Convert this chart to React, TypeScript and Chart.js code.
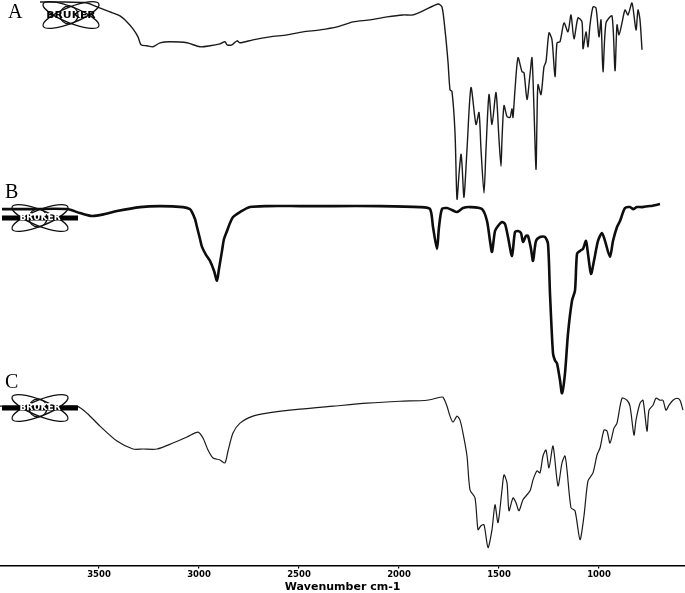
import React, { useEffect, useRef } from "react";
import { Chart, registerables } from "chart.js";

Chart.register(...registerables);

// Wavenumber (cm-1) and relative intensity (arbitrary stacked units) for each trace
const aWave = [3795,3695,3560,3510,3445,3395,3360,3330,3305,3290,3260,3230,3195,3145,3060,2995,2945,2895,2870,2860,2835,2810,2795,2730,2645,2560,2480,2395,2310,2230,2145,2060,1980,1930,1880,1805,1785,1770,1755,1745,1735,1720,1710,1700,1690,1685,1675,1660,1640,1615,1600,1590,1575,1565,1550,1535,1515,1500,1490,1485,1475,1460,1445,1435,1430,1420,1405,1385,1375,1360,1345,1335,1325,1315,1310,1305,1290,1275,1265,1250,1235,1220,1210,1195,1175,1155,1140,1125,1105,1085,1080,1065,1055,1045,1030,1015,1000,990,980,965,935,920,910,900,885,870,855,835,815,805,795,785];
const aVal = [566,566,565,561,556,552,546,539,531,523,522,521,525,526,525,521,522,524,526,523,523,527,525,528,531,533,536,538,541,546,548,551,553,553,557,564,561,538,506,478,476,435,368,393,413,403,370,418,480,443,455,418,374,418,473,443,475,428,401,428,462,451,450,459,450,478,510,496,495,468,493,510,458,398,448,483,473,501,506,535,528,491,525,526,545,536,553,529,550,546,519,536,521,543,561,560,531,548,496,545,552,497,543,533,545,558,553,565,538,558,548,518];

const bWave = [3985,3845,3660,3595,3535,3470,3410,3295,3195,3080,3045,3035,3020,3010,2995,2985,2965,2945,2925,2910,2900,2885,2875,2860,2845,2830,2795,2745,2660,2495,2330,2095,1895,1845,1830,1810,1800,1785,1760,1735,1710,1680,1645,1585,1560,1545,1535,1520,1505,1485,1470,1455,1435,1420,1405,1390,1380,1365,1355,1340,1330,1315,1295,1270,1255,1245,1230,1220,1210,1195,1185,1170,1155,1135,1120,1110,1095,1080,1065,1055,1040,1025,1005,985,970,945,930,910,895,870,845,830,810,785,745,695];
const bVal = [358,358,358,354,351,353,356,360,361,360,358,355,348,340,328,320,312,306,296,286,298,316,328,336,344,350,355,360,361,361,361,361,360,358,340,318,340,358,359,357,355,359,360,358,346,326,315,336,341,345,343,330,311,335,336,334,325,331,331,318,306,326,330,330,323,273,213,206,203,186,173,193,233,266,276,313,316,318,326,313,293,306,326,334,326,310,326,340,346,359,360,358,360,360,361,363];

const cWave = [3995,3895,3795,3695,3610,3560,3495,3410,3330,3280,3210,3130,3060,3005,2980,2955,2930,2895,2870,2855,2830,2795,2730,2660,2495,2330,2160,1995,1860,1795,1780,1760,1745,1730,1710,1695,1680,1660,1645,1620,1605,1590,1575,1555,1535,1520,1505,1485,1475,1460,1450,1430,1415,1400,1380,1345,1330,1310,1295,1280,1265,1250,1230,1205,1185,1170,1160,1140,1120,1095,1075,1055,1030,1010,995,975,960,945,925,910,885,860,845,825,815,795,780,760,750,730,715,695,680,665,650,630,610,595,580];
const cVal = [160,160,160,160,160,153,140,125,117,117,117,123,129,134,128,116,108,106,103,115,133,143,150,153,157,160,163,165,166,169,169,160,150,144,150,146,133,110,76,68,36,40,41,18,36,61,43,76,91,83,55,68,63,55,66,75,86,95,93,110,116,98,120,80,103,110,96,58,55,26,50,85,93,111,118,136,135,123,138,143,168,166,160,131,146,163,166,135,156,161,168,166,166,156,161,166,168,166,156];

const xTicks = [3500, 3000, 2500, 2000, 1500, 1000];
const traceLabels = ["A", "B", "C"];

const toPoints = (w: number[], v: number[]) => w.map((x, i) => ({ x, y: v[i] }));

function drawLogo(ctx: CanvasRenderingContext2D, cx: number, cy: number, heavy: boolean) {
  ctx.save();
  ctx.translate(cx, cy);
  ctx.strokeStyle = "#111";
  ctx.lineWidth = 1.3;
  ctx.beginPath();
  ctx.ellipse(0, 0, 30, 8, 0.38, 0, Math.PI * 2);
  ctx.stroke();
  ctx.beginPath();
  ctx.ellipse(0, 0, 30, 8, -0.38, 0, Math.PI * 2);
  ctx.stroke();
  ctx.beginPath();
  ctx.ellipse(-2, 0, 9, 9, 0, 0, Math.PI * 2);
  ctx.stroke();
  ctx.fillStyle = "#000";
  ctx.font = heavy ? "900 9px 'DejaVu Sans'" : "bold 8px 'DejaVu Sans'";
  ctx.textAlign = "center";
  ctx.textBaseline = "middle";
  if (heavy) {
    ctx.fillRect(-38, -2.5, 76, 5);
    ctx.fillStyle = "#fff";
    ctx.fillText("BRUKER", 0, 0);
  } else {
    ctx.save();
    ctx.scale(1.35, 1);
    ctx.fillText("BRUKER", 0, 0.5);
    ctx.restore();
  }
  ctx.restore();
}

const decorPlugin = {
  id: "decor",
  afterDatasetsDraw(chart: any) {
    const ctx = chart.ctx as CanvasRenderingContext2D;
    const top = chart.chartArea.top;
    const left = chart.chartArea.left;
    drawLogo(ctx, left + 71, top + 15, false);
    drawLogo(ctx, left + 40, top + 218, true);
    drawLogo(ctx, left + 40, top + 408, true);
    ctx.save();
    ctx.fillStyle = "#000";
    ctx.font = "20px 'Liberation Serif'";
    ctx.textBaseline = "alphabetic";
    ctx.textAlign = "left";
    ctx.fillText(traceLabels[0], left + 8, top + 18);
    ctx.fillText(traceLabels[1], left + 5, top + 198);
    ctx.fillText(traceLabels[2], left + 5, top + 388);
    ctx.restore();
  },
};

export default function App() {
  const ref = useRef<HTMLCanvasElement | null>(null);
  useEffect(() => {
    if (!ref.current) return;
    const chart = new Chart(ref.current, {
      type: "line",
      data: {
        datasets: [
          { label: "A", data: toPoints(aWave, aVal), borderColor: "#1a1a1a", borderWidth: 1.4, pointRadius: 0, tension: 0.25, fill: false },
          { label: "B", data: toPoints(bWave, bVal), borderColor: "#0d0d0d", borderWidth: 2.6, pointRadius: 0, tension: 0.25, fill: false },
          { label: "C", data: toPoints(cWave, cVal), borderColor: "#1a1a1a", borderWidth: 1.2, pointRadius: 0, tension: 0.25, fill: false },
        ],
      },
      options: {
        animation: false,
        responsive: true,
        maintainAspectRatio: false,
        layout: { padding: 0 },
        plugins: { legend: { display: false }, tooltip: { enabled: false }, title: { display: false } },
        scales: {
          x: {
            type: "linear",
            reverse: true,
            min: 570,
            max: 3995,
            afterBuildTicks: (axis: any) => {
              axis.ticks = xTicks.map((v) => ({ value: v }));
            },
            grid: { display: true, drawOnChartArea: false, drawTicks: true, tickLength: 3, color: "#000", lineWidth: 1.2 },
            border: { display: true, color: "#000", width: 1.6 },
            ticks: {
              autoSkip: false,
              maxRotation: 0,
              padding: 2,
              color: "#000",
              font: { family: "'DejaVu Sans'", size: 8.5, weight: "bold", lineHeight: 1 },
              callback: (v: any) => String(v),
            },
            title: {
              display: true,
              text: "Wavenumber cm-1",
              color: "#000",
              padding: { top: 1, bottom: 0 },
              font: { family: "'DejaVu Sans'", size: 11, weight: "bold", lineHeight: 1 },
            },
          },
          y: { display: false, min: 0, max: 568 },
        },
      },
      plugins: [decorPlugin],
    });
    return () => chart.destroy();
  }, []);
  return (
    <div style={{ position: "absolute", left: 0, top: 0, width: 685, height: 593, background: "#fff" }}>
      <canvas ref={ref} />
    </div>
  );
}
